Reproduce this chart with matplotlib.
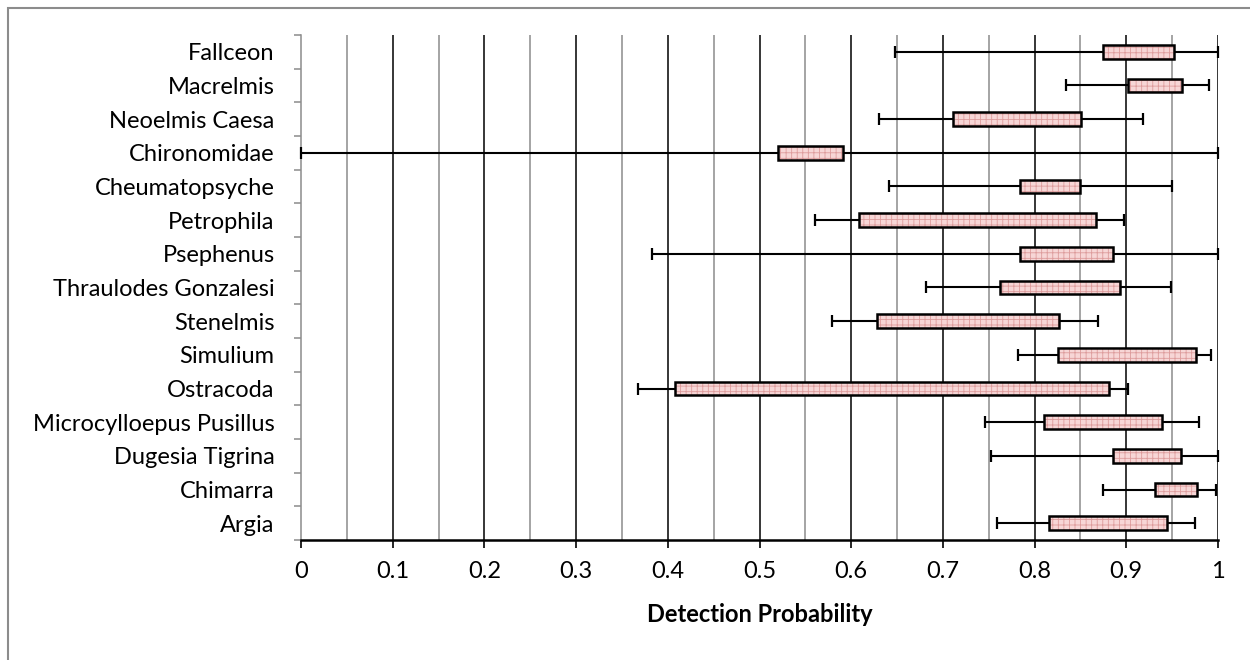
import matplotlib
matplotlib.use('Agg')
import matplotlib.pyplot as plt
from matplotlib.patches import Rectangle
import numpy as np

plt.rcParams['font.family'] = ['Lato', 'DejaVu Sans']
plt.rcParams['hatch.linewidth'] = 0.6

# taxa, top to bottom as in the chart
taxa = ['Fallceon', 'Macrelmis', 'Neoelmis Caesa', 'Chironomidae', 'Cheumatopsyche',
        'Petrophila', 'Psephenus', 'Thraulodes Gonzalesi', 'Stenelmis', 'Simulium',
        'Ostracoda', 'Microcylloepus Pusillus', 'Dugesia Tigrina', 'Chimarra', 'Argia']
# whisker ends
low = [0.648, 0.834, 0.630, 0.0, 0.641, 0.561, 0.383, 0.682, 0.579, 0.782,
       0.368, 0.746, 0.752, 0.875, 0.759]
high = [1.0, 0.990, 0.918, 1.0, 0.950, 0.898, 1.0, 0.949, 0.869, 0.992,
        0.902, 0.979, 1.0, 0.998, 0.975]
# box ends
box_lo = [0.875, 0.902, 0.711, 0.520, 0.784, 0.609, 0.784, 0.762, 0.628, 0.826,
          0.408, 0.810, 0.886, 0.931, 0.816]
box_hi = [0.952, 0.961, 0.851, 0.591, 0.849, 0.867, 0.886, 0.893, 0.827, 0.976,
          0.881, 0.939, 0.960, 0.977, 0.944]

fig = plt.figure(figsize=(12.5, 6.6), dpi=100)
ax = fig.add_axes([0.2408, 0.1818, 0.7336, 0.7652])

y = np.arange(len(taxa))[::-1]
low = np.array(low)
high = np.array(high)
box_lo = np.array(box_lo)
box_hi = np.array(box_hi)

# whiskers with end caps
ax.hlines(y, low, high, color='black', lw=1.5, zorder=3, clip_on=False)
for yi, lo, hi in zip(y, low, high):
    ax.plot([lo, hi], [yi, yi], ls='none', marker='|', ms=8, mew=1.6,
            color='black', zorder=3, clip_on=False)

# boxes: hatched fill then black outline
ax.barh(y, box_hi - box_lo, left=box_lo, height=0.4, color='#f7d6d6',
        edgecolor='#dd9c9c', hatch='+++', lw=0, zorder=4)
ax.barh(y, box_hi - box_lo, left=box_lo, height=0.4, fill=False,
        edgecolor='black', lw=1.8, zorder=5)

ax.set_xlim(0, 1)
ax.set_ylim(-0.5, len(taxa) - 0.5)
ax.set_xticks(np.arange(0, 1.01, 0.1))
ax.set_xticklabels(['0', '0.1', '0.2', '0.3', '0.4', '0.5', '0.6', '0.7', '0.8', '0.9', '1'])

# gridlines
for v in np.arange(0.1, 1.01, 0.1):
    ax.axvline(v, color='black', lw=1.1, zorder=1)
for v in np.arange(0.05, 1.0, 0.1):
    ax.axvline(v, color='#8c8c8c', lw=1.1, zorder=1)

ax.set_yticks(y)
ax.set_yticklabels(taxa)
ax.set_yticks(np.arange(-0.5, len(taxa), 1), minor=True)

ax.tick_params(axis='x', which='major', direction='out', length=6, width=1.2,
               labelsize=17, pad=9, color='black')
ax.tick_params(axis='y', which='major', length=0, labelsize=17, pad=19)
ax.tick_params(axis='y', which='minor', direction='out', length=5, width=1.1,
               color='#8c8c8c')

ax.spines['top'].set_visible(False)
ax.spines['right'].set_visible(False)
ax.spines['left'].set_color('#8c8c8c')
ax.spines['left'].set_linewidth(1.1)
ax.spines['bottom'].set_color('black')
ax.spines['bottom'].set_linewidth(1.8)

ax.set_xlabel('Detection Probability', fontsize=17, fontweight='bold', labelpad=15)

# chart area border and the cut-off caption above it
fig.patches.append(Rectangle((0.0064, -0.5), 2, 1.4886, transform=fig.transFigure,
                             fill=False, edgecolor='#8c8c8c', lw=1.5, clip_on=False))
fig.text(0.004, 1.006, 'Figure', fontsize=16, fontweight='bold', va='baseline')

fig.savefig('out.png', dpi=100)
